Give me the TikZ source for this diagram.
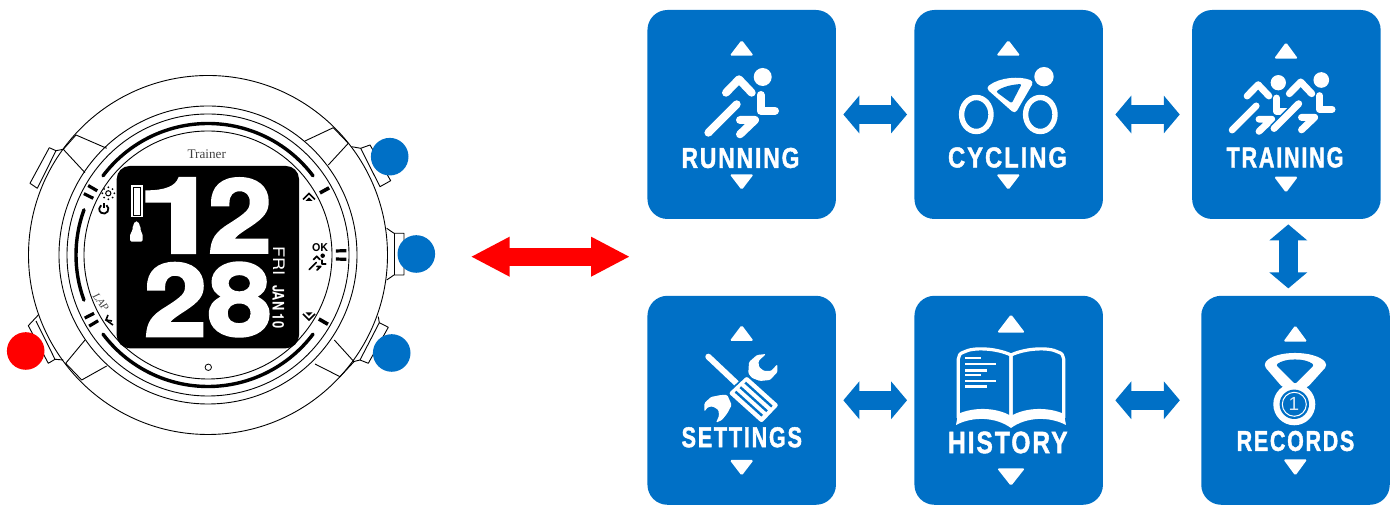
\documentclass[tikz,border=0pt]{standalone}
\usepackage{graphicx}
\usepackage{fontspec}
\setmainfont{Liberation Sans}
\newfontfamily\serifface{Liberation Serif}
\newfontfamily\lcdface{TeX Gyre Heros}
\newfontfamily\heavyface[FakeBold=2.5]{TeX Gyre Heros}
\newfontfamily\menuface[LetterSpace=8,FakeBold=1.6]{Liberation Sans}
\usetikzlibrary{arrows.meta}

\definecolor{menublue}{HTML}{0070C6}
\newcommand{\menutext}[2]{\resizebox{#2}{10pt}{\menuface\bfseries #1}}
\newcommand{\lcdtext}[3]{\resizebox{#2}{#3}{\lcdface\bfseries #1}}
\newcommand{\lcddigit}[3]{\resizebox{#2}{#3}{\heavyface\bfseries #1}}

\tikzset{
    menubox/.style={fill=menublue, rounded corners=10pt, minimum width=94.25pt, minimum height=104.5pt, inner sep=0pt},
    menulabel/.style={white, inner sep=0pt},
    lcdlabel/.style={white, inner sep=0pt},
    dot/.style={circle, fill=#1, minimum size=18.8pt, inner sep=0pt},
    bluearrow/.style={menublue, line width=9.5pt, {Triangle[length=8pt,width=18.5pt]}-{Triangle[length=8pt,width=18.5pt]}},
    redarrow/.style={red, line width=9pt, {Triangle[length=19.5pt,width=18.5pt]}-{Triangle[length=19.5pt,width=18.5pt]}},
    iconline/.style={line cap=round, line join=round},
    caseline/.style={black, line width=0.45pt, line join=round},
    runner/.pic={
        \fill (0,0) circle (9);
        \draw[iconline, line width=#1] (-36.7,15.7) -- (-23.7,2.3) -- (-11,15.7);
        \draw[iconline, line width=#1] (-2,18) -- (-2,33.7) -- (12.3,33.7);
        \draw[iconline, line width=#1] (-54.3,55.7) -- (-26,27.3);
        \draw[iconline, line width=#1] (-22.7,57.3) -- (-7.7,43) -- (-22.7,43);
    }
}

\begin{document}
\begin{tikzpicture}[x=0.5pt, y=-0.5pt]
    \useasboundingbox (0,0) rectangle (1394,506);

    % Side buttons of the case
    \draw[caseline] (63.3,149.3) -- (56,150.7) -- (49.3,147.7) -- (30,183.3) -- (37.3,188.3) -- (56,150.7);
    \draw[caseline] (38.3,315) -- (28.3,325.7) -- (48.3,363.3) -- (55,359.3) -- (63.3,360);
    \draw[caseline] (36,321) -- (55,359.3);
    \draw[caseline] (351.7,146.7) -- (360.7,148.3) -- (370,145) -- (390.7,180.7) -- (380,186.7) -- (360.7,148.3);
    \draw[caseline] (386.7,228.3) -- (394,233.3) -- (404,233.3) -- (404,275) -- (394,275) -- (386.7,280);
    \draw[caseline] (394,233.3) -- (394,275);
    \draw[caseline] (378.3,316.7) -- (379.3,322.7) -- (388.3,327.3) -- (368.3,363.3) -- (360,360) -- (353.3,361.7);
    \draw[caseline] (379.3,322.7) -- (360,360);

    % Case and bezel
    \foreach \r in {179.5,149,141,124}
        \draw[caseline] (208,255) circle (\r);
    \draw[caseline] (106.7,148.3) -- (76,135) -- (63.3,149.3) -- (85,172.7);
    \draw[caseline] (305,141) -- (333.3,127.7) -- (348.3,143.3) -- (328.3,165);
    \draw[caseline] (106.7,366) -- (81.7,380) -- (65.7,363.3) -- (85,340);
    \draw[caseline] (315,364) -- (340,376.7) -- (354,361.7) -- (334.3,340);

    % Dial marks, angles counted the usual way round
    \begin{scope}[shift={(208,255)}, y=0.5pt]
        \draw[line width=1.7pt, line cap=round] (143:131.5) arc[start angle=143, end angle=37, radius=131.5];
        \draw[line width=1.7pt, line cap=round] (-143:131.5) arc[start angle=-143, end angle=-37, radius=131.5];
        \draw[line width=1.7pt, line cap=round] (200:132) arc[start angle=200, end angle=160, radius=132];
        \foreach \a in {29,-30}
            \draw[line width=1.8pt] (\a:128) -- (\a:138.5);
        \foreach \a/\b in {0/1.8,0/-1.8,151.8/1.9,151.8/-1.9,209/1.9,209/-1.9}
            \draw[line width=1.6pt] ({\a+\b}:128) -- ({\a+\b}:138.5);
    \end{scope}
    \draw (208.3,367.3) circle (3.2);

    % Printed dial texts and symbols
    \node[black!75, inner sep=0pt] (brand) at (206.7,154.3) {\serifface\fontsize{6.6pt}{7pt}\selectfont Trainer};
    \node[black!75, inner sep=0pt, rotate=-54] (lap) at (101,302) {\serifface\itshape\fontsize{5.4pt}{6pt}\selectfont LAP};
    \node[inner sep=0pt] (ok) at (320,247.5) {\lcdtext{OK}{8pt}{4pt}};
    \pic[color=black] at (322.7,255.7) [scale=.25] {runner=0.85pt};
    \begin{scope}[shift={(103.8,209)}, y=0.5pt]
        \draw[line width=0.9pt] (55:4.6) arc[start angle=55, end angle=-235, radius=4.6];
        \draw[line width=0.9pt] (0,1) -- (0,6.2);
    \end{scope}
    \draw[line width=0.5pt] (108.3,193.3) circle (2.6);
    \foreach \a in {0,45,...,315}
        \fill ([shift={(\a:6)}]108.3,193.3) circle (1);
    \draw[line width=0.8pt] (303,199.5) -- (309,193.5) -- (315,199.5);
    \fill (305.5,201) -- (309,197.5) -- (312.5,201) -- cycle;
    \draw[line width=0.8pt] (303,314) -- (309,320) -- (315,314);
    \fill (305.5,312.5) -- (309,316) -- (312.5,312.5) -- cycle;
    \draw[line width=0.8pt] (108,315) -- (106,320) -- (112,321);
    \draw[line width=0.8pt] (106,320) -- (113,325);

    % Display
    \fill[black, rounded corners=6.5pt] (116.7,166) rectangle (299,348.3);
    \fill[white] (130.7,185) rectangle (142.7,217.3);
    \draw[black, line width=0.3pt] (133,187.5) rectangle (140.5,215);
    \fill[white, rounded corners=0.8pt] (130,241.7) -- (130,234) -- (132.5,231) -- (132.5,226) -- (134.5,224) -- (134.5,221.5) -- (138.5,221.5) -- (138.5,224) -- (140.5,226) -- (140.5,231) -- (142.7,234) -- (142.7,241.7) -- cycle;
    \node[lcdlabel] (hourA) at (179,215.5) {\lcddigit{1}{42pt}{37.2pt}};
    \node[lcdlabel] (hourB) at (240,215.5) {\lcddigit{2}{32pt}{37.2pt}};
    \node[lcdlabel] (minA) at (175.5,299.5) {\lcddigit{2}{31.5pt}{36.5pt}};
    \node[lcdlabel] (minB) at (239.7,299.5) {\lcddigit{8}{32pt}{36.5pt}};
    \node[lcdlabel, rotate=-90] (weekday) at (279,261.3) {\resizebox{14.6pt}{5.8pt}{\lcdface FRI}};
    \node[lcdlabel, rotate=-90] (date) at (278.3,306.7) {\lcdtext{JAN 10}{21.6pt}{5.8pt}};

    % Buttons
    \node[dot=menublue] (upkey) at (389.7,156.7) {};
    \node[dot=menublue] (okkey) at (416.3,254) {};
    \node[dot=menublue] (downkey) at (391.7,353) {};
    \node[dot=red] (modekey) at (25.7,351) {};

    % Red arrow
    \coordinate (redleft) at (470.7,256.7);
    \coordinate (redright) at (630,256.7);
    \draw[redarrow] (redleft) -- (redright);

    % Menu boxes
    \node[menubox] (running) at (741.7,114.5) {};
    \node[menubox] (cycling) at (1008.7,114.5) {};
    \node[menubox] (training) at (1286.4,114.5) {};
    \node[menubox] (settings) at (741.7,400.3) {};
    \node[menubox] (history) at (1008.7,400.3) {};
    \node[menubox] (records) at (1295.5,400.3) {};

    % Arrows between the boxes
    \draw[bluearrow, shorten <=3.5pt, shorten >=3.5pt] (running) -- (cycling);
    \draw[bluearrow, shorten <=6pt, shorten >=6pt] (cycling) -- (training);
    \draw[bluearrow, shorten <=3.5pt, shorten >=3.5pt] (settings) -- (history);
    \draw[bluearrow, shorten <=6pt, shorten >=10.5pt] (history) -- (records);
    \draw[bluearrow, shorten <=2.5pt, shorten >=3.5pt] ([xshift=0.95pt]training.south) -- ([xshift=-3.6pt]records.north);

    % Small up and down marks
    \foreach \cx/\ua/\ub/\da/\db/\hw in {741.7/40/55.7/174.3/190/12, 1008.3/40/55.7/174.3/190/12, 1286/42.3/58.7/176.7/192.7/12,
        741.7/325/341/460/475.7/12, 1011/314.3/332.7/468.3/486/14, 1295.3/325.3/341.7/459.3/475.7/12} {
        \fill[white, rounded corners=0.8pt] ({\cx-\hw},\ub) -- (\cx,\ua) -- ({\cx+\hw},\ub) -- cycle;
        \fill[white, rounded corners=0.8pt] ({\cx-\hw},\da) -- (\cx,\db) -- ({\cx+\hw},\da) -- cycle;
    }

    % Labels
    \node[menulabel] (runninglabel) at (740.5,158) {\menutext{RUNNING}{59pt}};
    \node[menulabel] (cyclinglabel) at (1007.5,157.5) {\menutext{CYCLING}{59.5pt}};
    \node[menulabel] (traininglabel) at (1285,157.5) {\menutext{TRAINING}{58.5pt}};
    \node[menulabel] (settingslabel) at (741.8,437.3) {\menutext{SETTINGS}{60.2pt}};
    \node[menulabel] (historylabel) at (1007.8,442.5) {\resizebox{59.8pt}{10.8pt}{\menuface\bfseries HISTORY}};
    \node[menulabel] (recordslabel) at (1295.5,441) {\menutext{RECORDS}{58.8pt}};

    % Running icon
    \pic[color=white] at (762.7,77) {runner=4pt};

    % Cycling icon
    \fill[white] (1044,76.7) circle (9.7);
    \draw[white, line width=2.7pt] (976.3,114.5) ellipse (14.7 and 17);
    \draw[white, line width=2.7pt] (1040.3,114.5) ellipse (14.7 and 17);
    \fill[white, rounded corners=2pt] (985.7,88) .. controls (1000,77) and (1020,76) .. (1034,81.5) -- (1015,114) -- cycle;
    \fill[menublue, rounded corners=1pt] (996,91.7) .. controls (1004,86) and (1014,84.5) .. (1021.7,84) -- (1011.7,103.3) -- cycle;

    % Training icon
    \pic[color=white] at (1278.3,82.7) [scale=.85] {runner=3.4pt};
    \draw[menublue, line width=5pt] (1274,128.5) -- (1298.7,103.8);
    \pic[color=white] at (1321.3,80) [scale=.87] {runner=3.5pt};

    % Settings icon
    \fill[white, rounded corners=0.6pt] (748.3,373.3) -- (749,362) -- (757,355) -- (766,354) -- (758.5,361) -- (759,367) -- (764,371) -- (771,371) -- (777.3,364.3) -- (777.5,372) -- (770,380) -- (760,381) -- (752,378) -- cycle;
    \fill[white, rounded corners=0.6pt] (704.3,411.7) -- (704.5,403) -- (711,397) -- (721,395) -- (727.3,395) -- (731.7,405) -- (727.3,413.3) -- (722,420) -- (716,422.7) -- (719,416) -- (718.5,410) -- (713,406.5) -- (708,407) -- cycle;
    \draw[white, line width=3pt, line cap=round] (708.3,356.7) -- (738.3,385);
    \draw[menublue, line width=0.8pt, fill=white, rounded corners=1.5pt] (746.7,375) -- (780,405) -- (761.7,424.3) -- (727.3,393.3) -- cycle;
    \foreach \sx/\sy/\ex/\ey in {745.2/382.6/771.9/406.6, 740.3/387.2/767/411.2, 735.5/391.7/762.2/415.7}
        \draw[menublue, line width=1.2pt] (\sx,\sy) -- (\ex,\ey);

    % History icon
    \foreach \s in {-1,1} {
        \begin{scope}[shift={(1011,0)}, xscale=\s]
            \draw[white, line width=1.6pt, line join=round] (0,420) -- (0,355) .. controls (-15,348) and (-38,347) .. (-47,352) .. controls (-51,353) and (-52.7,356) .. (-52.7,359) -- (-52.7,418);
            \fill[white] (0,416) .. controls (-15,407) and (-38,407) .. (-53,414) -- (-55,425) .. controls (-38,416) and (-15,417) .. (0,428) -- cycle;
        \end{scope}
    }
    \foreach \ly/\lx in {358.3/981, 364.3/996, 370.7/987, 375.3/981, 381.3/996, 386.7/987}
        \draw[white, line width=1.2pt] (965,\ly) -- (\lx,\ly);

    % Records icon
    \fill[white, rounded corners=2pt] (1263.3,365) .. controls (1275,350) and (1315,350) .. (1327.7,365) -- (1306.7,388.3) -- (1283.3,388.3) -- cycle;
    \fill[menublue, rounded corners=1pt] (1276,365) .. controls (1285,358) and (1305,358) .. (1314,365) -- (1295,384) -- cycle;
    \fill[white] (1294.3,404.3) circle (21);
    \fill[menublue] (1294.3,404.3) circle (14.7);
    \draw[white, line width=0.5pt] (1294.3,404.3) circle (12);
    \node[white!85!menublue, inner sep=0pt] (medal) at (1294,404.3) {\fontsize{9.5pt}{10pt}\selectfont 1};
\end{tikzpicture}
\end{document}
